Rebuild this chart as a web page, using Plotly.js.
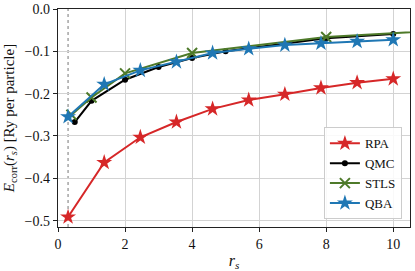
<!DOCTYPE html>
<html>
<head>
<meta charset="utf-8">
<script src="https://cdn.plot.ly/plotly-3.0.1.min.js"></script>
<style>html,body{margin:0;padding:0;background:#fff;}#chart{width:415px;height:271px;}</style>
</head>
<body>
<div id="chart"></div>
<script>
const rpaRs = [0.3, 1.378, 2.456, 3.533, 4.611, 5.689, 6.767, 7.844, 8.922, 10.0];
const rpaE  = [-0.4915, -0.3626, -0.303, -0.267, -0.236, -0.215, -0.2015, -0.1865, -0.174, -0.165];
const qbaRs = [0.3, 1.378, 2.456, 3.533, 4.611, 5.689, 6.767, 7.844, 8.922, 10.0];
const qbaE  = [-0.2545, -0.178, -0.145, -0.125, -0.104, -0.094, -0.0853, -0.081, -0.0767, -0.0727];
const qmcRs = [0.5, 1, 2, 3, 4, 5, 8, 10];
const qmcE  = [-0.267, -0.217, -0.167, -0.137, -0.116, -0.100, -0.069, -0.059];
const stlsRs = [0.4, 1, 2, 4, 8, 12];
const stlsE  = [-0.25, -0.209, -0.152, -0.104, -0.066, -0.048];
const markerRs = 0.3;
const xTicks = [0, 2, 4, 6, 8, 10];
const yTicks = [0.0, -0.1, -0.2, -0.3, -0.4, -0.5];

const font = 'Liberation Serif, Times New Roman, serif';
const traces = [
  {name: 'RPA', x: rpaRs, y: rpaE, mode: 'lines+markers',
   line: {color: '#d62728', width: 2}, marker: {symbol: 'star', size: 12, color: '#d62728'}},
  {name: 'QMC', x: qmcRs, y: qmcE, mode: 'lines+markers',
   line: {color: '#000000', width: 2}, marker: {symbol: 'circle', size: 6, color: '#000000'}},
  {name: 'STLS', x: stlsRs, y: stlsE, mode: 'lines+markers',
   line: {color: '#4e7a2a', width: 2}, marker: {symbol: 'x-thin', size: 10, color: '#4e7a2a', line: {width: 2, color: '#4e7a2a'}}},
  {name: 'QBA', x: qbaRs, y: qbaE, mode: 'lines+markers',
   line: {color: '#1f77b4', width: 2}, marker: {symbol: 'star', size: 12, color: '#1f77b4'}}
];
const axisCommon = {
  showline: true, mirror: true, linecolor: '#222', linewidth: 1.2,
  ticks: 'outside', ticklen: 4, tickcolor: '#222',
  showgrid: true, gridcolor: '#d3d3d3', gridwidth: 1, zeroline: false,
  tickfont: {family: font, size: 14, color: '#111'}
};
const layout = {
  width: 415, height: 271,
  margin: {l: 58, r: 5, t: 9, b: 44},
  paper_bgcolor: '#fff', plot_bgcolor: '#fff',
  showlegend: true,
  legend: {x: 0.977, y: 0.035, xanchor: 'right', yanchor: 'bottom',
           bgcolor: 'rgba(255,255,255,0.85)', bordercolor: '#ccc', borderwidth: 1,
           font: {family: font, size: 13, color: '#111'}, tracegroupgap: 0, itemwidth: 30},
  xaxis: Object.assign({}, axisCommon, {range: [0, 10.5], tickvals: xTicks, ticktext: xTicks.map(String),
    title: {text: '<i>r<sub>s</sub></i>', font: {family: font, size: 16, color: '#111'}, standoff: 6}}),
  yaxis: Object.assign({}, axisCommon, {range: [-0.515, 0], tickvals: yTicks,
    ticktext: yTicks.map(v => v === 0 ? '0.0' : '\u2212' + Math.abs(v).toFixed(1)),
    title: {text: '<i>E</i><sub>corr</sub>(<i>r<sub>s</sub></i>) [Ry per particle]', font: {family: font, size: 15, color: '#111'}, standoff: 6}}),
  shapes: [{type: 'line', xref: 'x', yref: 'paper', x0: markerRs, x1: markerRs, y0: 0, y1: 1,
            line: {color: '#777', width: 1, dash: 'dot'}, layer: 'below'}]
};
Plotly.newPlot('chart', traces, layout, {displayModeBar: false, staticPlot: true});
</script>
</body>
</html>
